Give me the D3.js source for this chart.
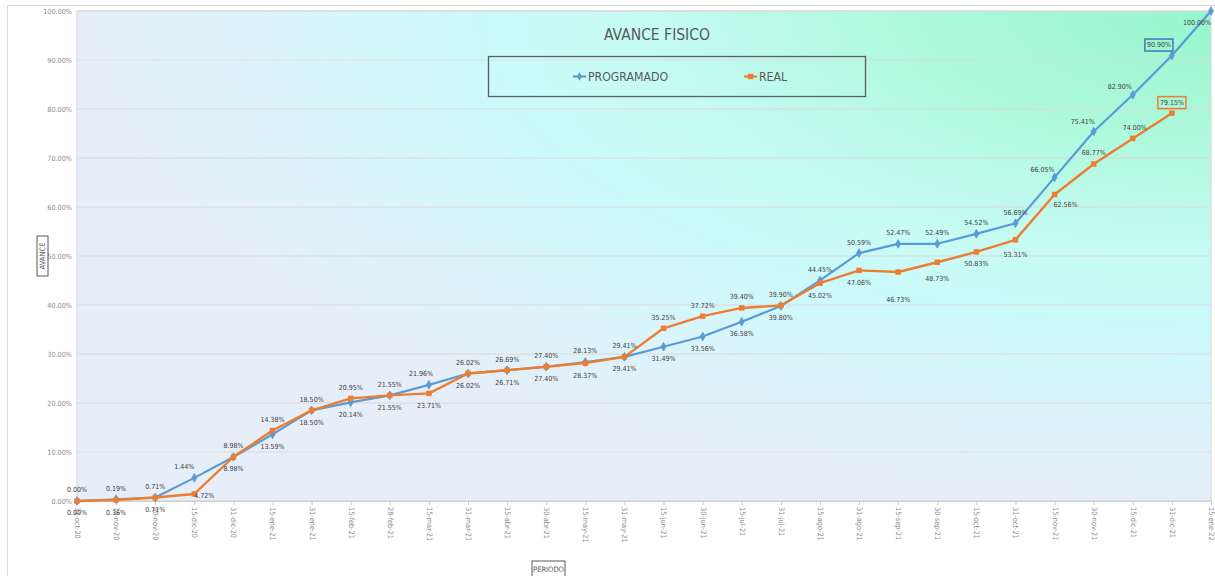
<!DOCTYPE html>
<html>
<head>
<meta charset="utf-8">
<script src="https://cdn.jsdelivr.net/npm/d3@7/dist/d3.min.js"></script>
<style>
  html, body { margin: 0; padding: 0; background: #ffffff; }
  svg { display: block; }
  text { font-family: "Liberation Sans Narrow", "Arial Narrow", "DejaVu Sans Condensed", sans-serif; }
</style>
</head>
<body>
<svg id="chart" width="1215" height="576"></svg>
<script>
// Periods (half-month cut-off dates)
const categories = [
  '31-oct-20','15-nov-20','30-nov-20','15-dic-20','31-dic-20','15-ene-21','31-ene-21',
  '15-feb-21','28-feb-21','15-mar-21','31-mar-21','15-abr-21','30-abr-21','15-may-21',
  '31-may-21','15-jun-21','30-jun-21','15-jul-21','31-jul-21','15-ago-21','31-ago-21',
  '15-sep-21','30-sep-21','15-oct-21','31-oct-21','15-nov-21','30-nov-21','15-dic-21',
  '31-dic-21','15-ene-22'
];

// Cumulative physical progress, in percent
const programado = [
  0.00, 0.36, 0.71, 4.72, 8.98, 13.59, 18.50, 20.14, 21.55, 23.71, 26.02, 26.71, 27.40, 28.37,
  29.41, 31.49, 33.56, 36.58, 39.80, 45.02, 50.59, 52.47, 52.49, 54.52, 56.69, 66.05, 75.41,
  82.90, 90.90, 100.00
];
const real = [
  0.00, 0.19, 0.71, 1.44, 8.98, 14.38, 18.50, 20.95, 21.55, 21.96, 26.02, 26.69, 27.40, 28.13,
  29.41, 35.25, 37.72, 39.40, 39.90, 44.45, 47.06, 46.73, 48.73, 50.83, 53.31, 62.56, 68.77,
  74.00, 79.15, null
];

const yTicks = [0, 10, 20, 30, 40, 50, 60, 70, 80, 90, 100];
const seriesNames = ['PROGRAMADO', 'REAL'];

const BLUE = '#5b9bd5', ORANGE = '#ed7d31';
const svg = d3.select('#chart');

const plot = { left: 77, right: 1211, top: 11, bottom: 501 };
const x = d3.scalePoint().domain(categories).range([plot.left, plot.right]);
const y = d3.scaleLinear().domain([0, 100]).range([plot.bottom, plot.top]);

// Chart frame
svg.append('line').attr('x1', 7).attr('x2', 1215).attr('y1', 5.5).attr('y2', 5.5)
  .attr('stroke', '#d9d9d9').attr('stroke-width', 1);
svg.append('line').attr('x1', 7.5).attr('x2', 7.5).attr('y1', 5).attr('y2', 576)
  .attr('stroke', '#d9d9d9').attr('stroke-width', 1);

// Plot area fill: path gradient spreading from the top-right corner
const defs = svg.append('defs');
const grad = defs.append('radialGradient').attr('id', 'plotFill')
  .attr('cx', 1).attr('cy', 0).attr('r', 1).attr('fx', 1).attr('fy', 0);
[[0, '#97f6cb'], [0.3, '#b2f9e0'], [0.5, '#c6fbf3'], [0.65, '#ccfafc'],
 [0.85, '#dcf3fb'], [1, '#e6eff9']].forEach(([o, c]) =>
  grad.append('stop').attr('offset', o).attr('stop-color', c));

svg.append('rect')
  .attr('x', plot.left).attr('y', plot.top)
  .attr('width', plot.right - plot.left).attr('height', plot.bottom - plot.top)
  .attr('fill', 'url(#plotFill)');

// Gridlines
svg.append('g').selectAll('line').data(yTicks).join('line')
  .attr('x1', plot.left).attr('x2', plot.right)
  .attr('y1', d => y(d)).attr('y2', d => y(d))
  .attr('stroke', '#d9d9d9').attr('stroke-width', 1.2);

svg.append('rect')
  .attr('x', plot.left).attr('y', plot.top)
  .attr('width', plot.right - plot.left).attr('height', plot.bottom - plot.top)
  .attr('fill', 'none').attr('stroke', '#d9d9d9').attr('stroke-width', 1.2);

// Y axis
const yAxis = d3.axisLeft(y).tickValues(yTicks).tickSize(0).tickPadding(5)
  .tickFormat(d => d3.format('.2%')(d / 100));
const gy = svg.append('g').attr('transform', `translate(${plot.left},0)`).call(yAxis);
gy.select('.domain').remove();
gy.selectAll('text').attr('fill', '#8c8c8c').attr('font-size', 7.2)
  .style('font-family', '"Liberation Sans Narrow", "Arial Narrow", "DejaVu Sans Condensed", sans-serif');

// X axis
const xAxis = d3.axisBottom(x).tickSize(4).tickPadding(0);
const gx = svg.append('g').attr('transform', `translate(0,${plot.bottom})`).call(xAxis);
gx.select('.domain').attr('stroke', '#d0d0d0');
gx.selectAll('.tick line').attr('stroke', '#c8c8c8');
gx.selectAll('text')
  .attr('fill', '#8c8c8c').attr('font-size', 7.3)
  .attr('text-anchor', 'start')
  .attr('transform', 'translate(0,6) rotate(90)')
  .attr('x', 0).attr('y', 0).attr('dy', '0.35em')
  .style('font-family', '"Liberation Sans Narrow", "Arial Narrow", "DejaVu Sans Condensed", sans-serif');

// Series
const seriesP = programado.map((v, i) => ({ i, v, key: 'P' }));
const seriesR = real.map((v, i) => ({ i, v, key: 'R' })).filter(d => d.v !== null);

const line = d3.line().x(d => x(categories[d.i])).y(d => y(d.v));

svg.append('path').datum(seriesP).attr('d', line)
  .attr('fill', 'none').attr('stroke', BLUE).attr('stroke-width', 2.2)
  .attr('stroke-linejoin', 'round');
svg.append('path').datum(seriesR).attr('d', line)
  .attr('fill', 'none').attr('stroke', ORANGE).attr('stroke-width', 2.4)
  .attr('stroke-linejoin', 'round');

const diamond = d3.symbol().type(d3.symbolDiamond).size(22);
const square = d3.symbol().type(d3.symbolSquare).size(30);

svg.append('g').selectAll('path').data(seriesP).join('path')
  .attr('d', diamond)
  .attr('transform', d => `translate(${x(categories[d.i])},${y(d.v)})`)
  .attr('fill', BLUE).attr('stroke', BLUE).attr('stroke-width', 0.8);
svg.append('g').selectAll('path').data(seriesR).join('path')
  .attr('d', square)
  .attr('transform', d => `translate(${x(categories[d.i])},${y(d.v)})`)
  .attr('fill', ORANGE);

// Data labels: the upper label sits above the higher point, the lower one below the lower point
const nudges = {
  R3: [-10, 0], P3: [10, -10], R9: [-8, 0],
  R21: [0, 16], R22: [0, 4], R24: [0, 3],
  P25: [-12, 3], R25: [11, -2], P26: [-11, 1], P27: [-13, 3], R27: [2, 0],
  P28: [-13, 0], P29: [-14, 23]
};

function labelPos(d) {
  const p = programado[d.i];
  const r = real[d.i] === null ? p : real[d.i];
  const hi = Math.max(p, r), lo = Math.min(p, r);
  const onTop = d.i <= 19 ? d.key === 'R' : d.key === 'P';
  let ly;
  if (d.key === 'R' && d.i >= 26) {
    ly = y(d.v) - 11;
  } else {
    ly = onTop ? y(hi) - 11 : y(lo) + 12;
  }
  const n = nudges[d.key + d.i] || [0, 0];
  return [x(categories[d.i]) + n[0], ly + n[1]];
}

const labels = seriesP.concat(seriesR);
const lg = svg.append('g');
lg.selectAll('text').data(labels).join('text')
  .attr('x', d => labelPos(d)[0])
  .attr('y', d => labelPos(d)[1])
  .attr('dy', '0.35em')
  .attr('text-anchor', 'middle')
  .attr('font-size', 7)
  .attr('fill', '#404040')
  .text(d => d3.format('.2f')(d.v) + '%');

// Highlight frames on the last reported period
const lastReal = seriesR[seriesR.length - 1].i;
lg.selectAll('text').filter(d => d.i === lastReal).each(function (d) {
  const b = this.getBBox();
  lg.append('rect')
    .attr('x', b.x - 2).attr('y', b.y - 2)
    .attr('width', b.width + 4).attr('height', b.height + 4)
    .attr('fill', 'none')
    .attr('stroke', d.key === 'P' ? '#4472c4' : ORANGE)
    .attr('stroke-width', 1.5);
});

// Title
svg.append('text').attr('x', 657).attr('y', 39.5).attr('text-anchor', 'middle')
  .attr('font-size', 15.5).attr('fill', '#595959').text('AVANCE FISICO');

// Legend
svg.append('rect').attr('x', 488.5).attr('y', 56.5).attr('width', 377).attr('height', 40)
  .attr('fill', 'none').attr('stroke', '#5a6160').attr('stroke-width', 1.3);

const legendItems = [
  { name: seriesNames[0], color: BLUE, sym: diamond, x0: 573 },
  { name: seriesNames[1], color: ORANGE, sym: square, x0: 744 }
];
const leg = svg.append('g').selectAll('g').data(legendItems).join('g')
  .attr('transform', d => `translate(${d.x0},76.5)`);
leg.append('line').attr('x1', 0).attr('x2', 13).attr('y1', 0).attr('y2', 0)
  .attr('stroke', d => d.color).attr('stroke-width', 2.2);
leg.append('path').attr('d', d => d.sym()).attr('transform', 'translate(6.5,0)')
  .attr('fill', d => d.color);
leg.append('text').attr('x', 15).attr('y', 0).attr('dy', '0.36em')
  .attr('font-size', 12.2).attr('fill', '#595959').text(d => d.name);

// Axis titles
svg.append('rect').attr('x', 37).attr('y', 236).attr('width', 11).attr('height', 40)
  .attr('fill', '#ffffff').attr('stroke', '#595959').attr('stroke-width', 1);
svg.append('text').attr('transform', 'translate(42.5,256) rotate(-90)')
  .attr('text-anchor', 'middle').attr('dy', '0.35em')
  .attr('font-size', 7.5).attr('fill', '#595959').text('AVANCE');

svg.append('rect').attr('x', 532).attr('y', 561).attr('width', 33).attr('height', 16)
  .attr('fill', '#ffffff').attr('stroke', '#595959').attr('stroke-width', 1);
svg.append('text').attr('x', 548.5).attr('y', 569).attr('text-anchor', 'middle').attr('dy', '0.35em')
  .attr('font-size', 7.5).attr('fill', '#595959').text('PERIODO');
</script>
</body>
</html>
